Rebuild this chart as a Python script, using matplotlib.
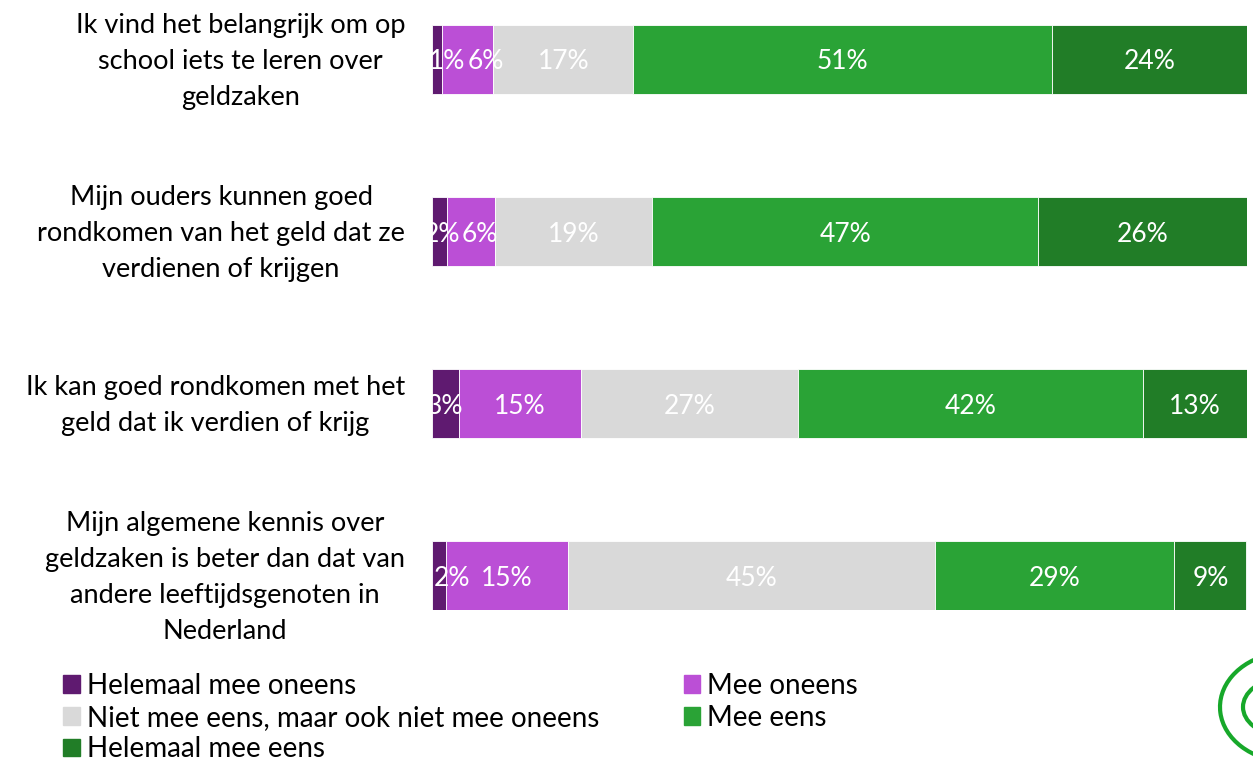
import numpy as np
import matplotlib.pyplot as plt
from matplotlib.patches import Patch, Arc

plt.rcParams['font.family'] = ['Lato', 'DejaVu Sans']

statements = [
    "Ik vind het belangrijk om op\nschool iets te leren over\ngeldzaken",
    "Mijn ouders kunnen goed\nrondkomen van het geld dat ze\nverdienen of krijgen",
    "Ik kan goed rondkomen met het\ngeld dat ik verdien of krijg",
    "Mijn algemene kennis over\ngeldzaken is beter dan dat van\nandere leeftijdsgenoten in\nNederland",
]
answers = ["Helemaal mee oneens", "Mee oneens",
           "Niet mee eens, maar ook niet mee oneens", "Mee eens",
           "Helemaal mee eens"]
colors = ["#5f1a70", "#bb4fd6", "#d9d9d9", "#2aa336", "#217d27"]

# shares (%) per statement
helemaal_oneens = [1.2, 1.8, 3.3, 1.7]
oneens = [6.3, 5.9, 15.0, 15.0]
neutraal = [17.2, 19.3, 26.6, 45.0]
eens = [51.4, 47.4, 42.3, 29.4]
helemaal_eens = [23.9, 25.6, 12.9, 8.8]
# printed labels
labels = [
    [1, 6, 17, 51, 24],
    [2, 6, 19, 47, 26],
    [3, 15, 27, 42, 13],
    [2, 15, 45, 29, 9],
]

series = [helemaal_oneens, oneens, neutraal, eens, helemaal_eens]

# small labels are pushed right a bit in the original (pixels)
nudge = {(0, 0): 10, (0, 1): 18, (1, 0): 3, (1, 1): 9, (3, 0): 13}

fig = plt.figure(figsize=(12.53, 7.61), dpi=100)
ax = fig.add_axes([432 / 1253, 151 / 761, 815 / 1253, 585 / 761])

y = np.arange(len(statements))
left = np.zeros(len(statements))
for k, vals in enumerate(series):
    vals = np.array(vals)
    ax.barh(y, vals, left=left, height=0.4, color=colors[k],
            edgecolor='white', linewidth=0.6, label=answers[k])
    for i in range(len(statements)):
        ax.annotate(f"{labels[i][k]}%", (left[i] + vals[i] / 2, y[i] + 0.015),
                    xytext=(nudge.get((i, k), 0), 0),
                    textcoords='offset pixels',
                    ha='center', va='center', color='white', fontsize=19,
                    clip_on=True)
    left += vals

ax.set_xlim(0, 100)
ax.set_ylim(3.2, -0.2)
ax.set_xticks([])
ax.set_yticks([])
for s in ax.spines.values():
    s.set_visible(False)

for i, s in enumerate(statements):
    ax.text(-27 / 815, y[i] + 0.01, s, transform=ax.get_yaxis_transform(),
            ha='right', va='center', multialignment='center',
            fontsize=19.5, linespacing=1.55)

h = [Patch(color=c) for c in colors]
order = [0, 2, 4, 1, 3]
fig.legend([h[i] for i in order], [answers[i] for i in order],
           loc='upper left', bbox_to_anchor=(63 / 1253, 1 - 673 / 761),
           ncol=2, frameon=False, fontsize=20, handlelength=0.6,
           handleheight=0.6, handletextpad=0.25, columnspacing=3.05,
           labelspacing=0.2, borderpad=0, borderaxespad=0)

# logo fragment in the corner
lax = fig.add_axes([1150 / 1253, 0, 103 / 1253, 121 / 761])
lax.set_xlim(1150, 1253)
lax.set_ylim(761, 640)
lax.set_aspect('equal')
lax.axis('off')
lax.add_patch(Arc((1290, 707), 140, 110, theta1=95, theta2=250,
                  color='#17a82a', lw=3))
lax.add_patch(Arc((1285, 707), 84, 58, theta1=100, theta2=260,
                  color='#17a82a', lw=3))

fig.savefig('out.png', dpi=100)
